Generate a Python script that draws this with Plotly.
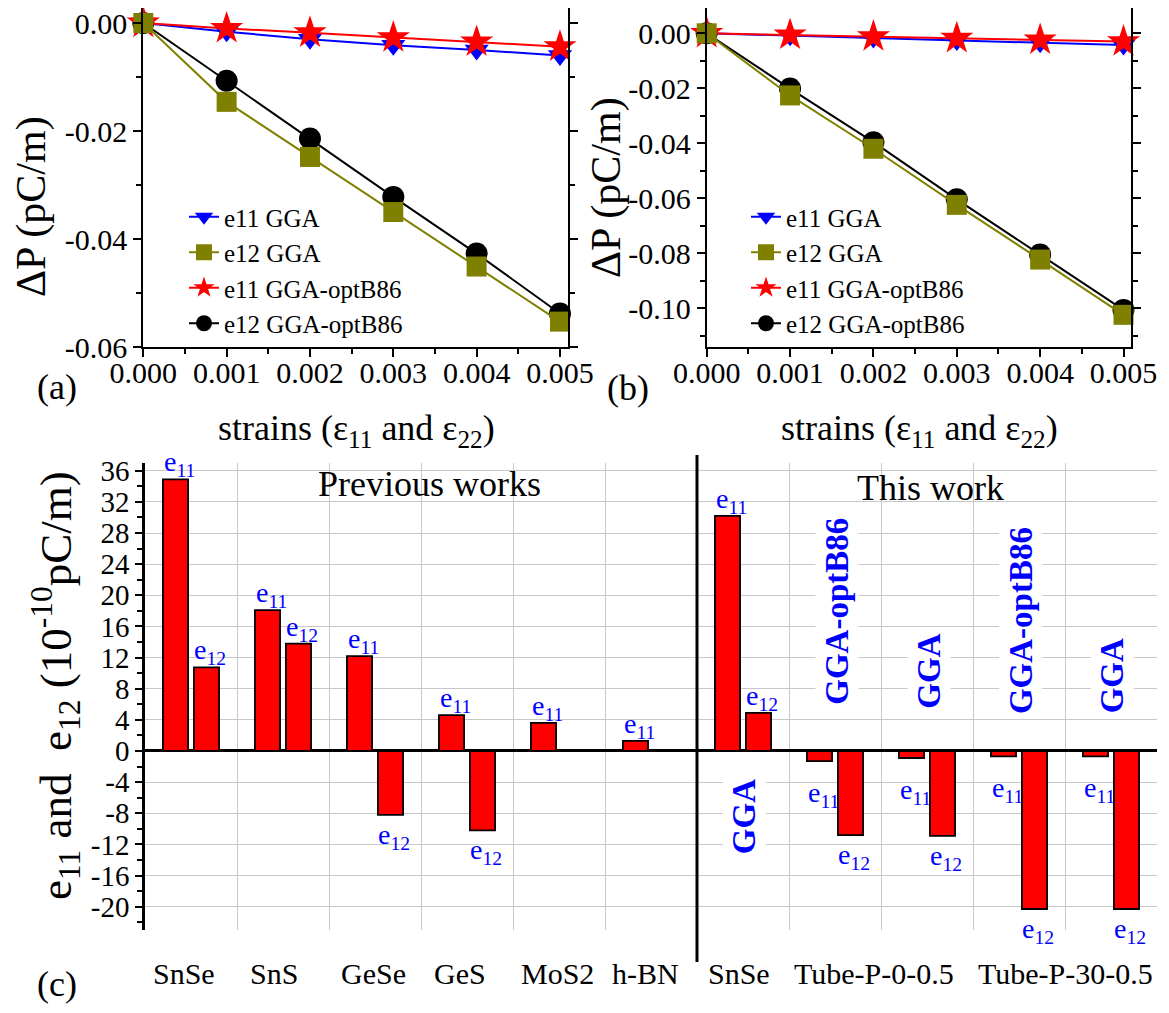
import plotly.graph_objects as go

# ---------------- data ----------------
strain = [0.000, 0.001, 0.002, 0.003, 0.004, 0.005]
strain_ticks = [0.000, 0.001, 0.002, 0.003, 0.004, 0.005]
strain_ticktext = ["0.000", "0.001", "0.002", "0.003", "0.004", "0.005"]

# panel (a)
a_e11_gga = [0.0, -0.0016, -0.0030, -0.0041, -0.0050, -0.0060]
a_e12_gga = [0.0, -0.0146, -0.0248, -0.0350, -0.0451, -0.0553]
a_e11_opt = [0.0, -0.0010, -0.0018, -0.0027, -0.0035, -0.0044]
a_e12_opt = [0.0, -0.0107, -0.0214, -0.0322, -0.0427, -0.0538]
a_yticks = [-0.06, -0.04, -0.02, 0.0]
a_yticktext = ["-0.06", "-0.04", "-0.02", "0.00"]

# panel (b)
b_e11_gga = [0.0, -0.0009, -0.0017, -0.0026, -0.0034, -0.0043]
b_e12_gga = [0.0, -0.0226, -0.0420, -0.0624, -0.0823, -0.1024]
b_e11_opt = [0.0, -0.0006, -0.0012, -0.0018, -0.0024, -0.0030]
b_e12_opt = [0.0, -0.0201, -0.0396, -0.0604, -0.0805, -0.1006]
b_yticks = [-0.10, -0.08, -0.06, -0.04, -0.02, 0.0]
b_yticktext = ["-0.10", "-0.08", "-0.06", "-0.04", "-0.02", "0.00"]

series_names = ["e11 GGA", "e12 GGA", "e11 GGA-optB86", "e12 GGA-optB86"]

# panel (c)
cells = list(range(11))
c_e11 = [34.9, 18.1, 12.2, 4.6, 3.6, 1.3, 30.2, -1.3, -0.9, -0.7, -0.7]
c_e12 = [10.75, 13.8, -8.2, -10.2, None, None, 4.9, -10.8, -10.9, -20.3, -20.3]
cat_labels = ["SnSe", "SnS", "GeSe", "GeS", "MoS2", "h-BN", "SnSe",
              "Tube-P-0-0.5", "Tube-P-30-0.5"]
cat_label_pos = [-0.08, 0.9, 1.98, 2.92, 3.98, 4.94, 5.96, 7.42, 9.5]
method_labels = ["GGA", "GGA-optB86", "GGA", "GGA-optB86", "GGA"]
method_cells = [6, 7, 8, 9, 10]
c_yticks = list(range(-20, 37, 4))
c_yticktext = [str(v) for v in c_yticks]

# ---------------- styling ----------------
FONT = "Liberation Serif, Times New Roman, serif"
BLUE = "#0000FF"
OLIVE = "#808000"
RED = "#FF0000"
OFF = 8                      # page body margin in the browser
FW, FH = 1169 - OFF, 1013 - OFF


def px_x(p):
    return (p - OFF) / FW


def px_y(p):
    return 1 - (p - OFF) / FH


fig = go.Figure()

styles = {
    "e11 GGA": dict(color=BLUE, symbol="triangle-down", size=21, rank=1),
    "e12 GGA": dict(color=OLIVE, symbol="square", size=20, rank=2),
    "e11 GGA-optB86": dict(color=RED, symbol="star", size=25, rank=3),
    "e12 GGA-optB86": dict(color="black", symbol="circle", size=22, rank=4),
}
draw_order = ["e12 GGA-optB86", "e11 GGA", "e11 GGA-optB86", "e12 GGA"]
panel_a = dict(zip(series_names, [a_e11_gga, a_e12_gga, a_e11_opt, a_e12_opt]))
panel_b = dict(zip(series_names, [b_e11_gga, b_e12_gga, b_e11_opt, b_e12_opt]))

for panel, xa, ya, leg in [(panel_a, "x", "y", "legend"), (panel_b, "x2", "y2", "legend2")]:
    for name in draw_order:
        st = styles[name]
        fig.add_trace(go.Scatter(
            x=strain, y=panel[name], mode="lines+markers", name=name,
            xaxis=xa, yaxis=ya, legend=leg, legendrank=st["rank"],
            cliponaxis=False,
            line=dict(color=st["color"], width=2),
            marker=dict(symbol=st["symbol"], size=st["size"], color=st["color"]),
        ))

fig.add_trace(go.Bar(x=cells, y=c_e11, name="e11", xaxis="x3", yaxis="y3",
                     marker=dict(color=RED, line=dict(color="black", width=1.8)),
                     showlegend=False))
fig.add_trace(go.Bar(x=cells, y=c_e12, name="e12", xaxis="x3", yaxis="y3",
                     marker=dict(color=RED, line=dict(color="black", width=1.8)),
                     showlegend=False))

tickfont = dict(family=FONT, size=30, color="black")


def line_axis(domain, rng, tickvals, ticktext, minor_dtick, anchor, standoff):
    return dict(domain=domain, range=rng, anchor=anchor, automargin=False,
                tickmode="array", tickvals=tickvals, ticktext=ticktext,
                ticks="outside", ticklen=8, tickwidth=2, tickcolor="black",
                showline=True, linecolor="black", linewidth=2, mirror="ticks",
                showgrid=False, zeroline=False, tickfont=tickfont,
                ticklabeloverflow="allow", ticklabelstandoff=standoff,
                minor=dict(dtick=minor_dtick, tick0=0, ticks="outside", ticklen=5,
                           tickwidth=2, tickcolor="black", showgrid=False))


ya_dom = [px_y(347), 1.0]
leg_font = dict(family=FONT, size=25, color="black")
fig.update_layout(
    template="none",
    xaxis=line_axis([px_x(143.3), px_x(568.3)], [0, 0.0051], strain_ticks,
                    strain_ticktext, 0.0005, "y", -10),
    yaxis=line_axis(ya_dom, [-0.06, 0.00278], a_yticks, a_yticktext, 0.01, "x", 0),
    xaxis2=line_axis([px_x(706.7), px_x(1131)], [0, 0.00509], strain_ticks,
                     strain_ticktext, 0.0005, "y2", -10),
    yaxis2=line_axis(ya_dom, [-0.1141, 0.0092], b_yticks, b_yticktext, 0.01, "x2", 0),
    xaxis3=dict(domain=[px_x(145), px_x(1157)], range=[-0.5, 10.5], anchor="y3",
                automargin=False,
                tickmode="array", tickvals=[v + 0.5 for v in cells[:-1]],
                showticklabels=False, ticks="", showgrid=True,
                gridcolor="#c8c8c8", gridwidth=1, zeroline=False, showline=False),
    yaxis3=dict(domain=[px_y(930), px_y(463)], range=[-23, 37], anchor="x3",
                automargin=False,
                tickmode="array", tickvals=c_yticks, ticktext=c_yticktext,
                ticks="outside", ticklen=7, tickwidth=2, tickcolor="black",
                showline=True, linecolor="black", linewidth=2.5,
                showgrid=True, gridcolor="#c8c8c8", gridwidth=1,
                zeroline=True, zerolinecolor="black", zerolinewidth=2.5,
                tickfont=dict(family=FONT, size=29, color="black"),
                minor=dict(dtick=2, tick0=0, ticks="outside", ticklen=5,
                           tickwidth=2, tickcolor="black", showgrid=False)),
    barmode="group", bargap=0.326, bargroupgap=0.19,
    width=FW, height=FH, margin=dict(l=0, r=0, t=0, b=0, pad=0, autoexpand=False),
    paper_bgcolor="white", plot_bgcolor="white",
    font=dict(family=FONT, color="black"),
    legend=dict(x=px_x(184), y=px_y(194), xanchor="left", yanchor="top",
                bgcolor="rgba(0,0,0,0)", font=leg_font,
                tracegroupgap=0, itemsizing="trace"),
    legend2=dict(x=px_x(746), y=px_y(194), xanchor="left", yanchor="top",
                 bgcolor="rgba(0,0,0,0)", font=leg_font,
                 tracegroupgap=0, itemsizing="trace"),
)

ann = []


def text_ann(text, x, y, size, xref="paper", yref="paper", angle=0, color="black", **kw):
    d = dict(text=text, x=x, y=y, xref=xref, yref=yref, textangle=angle,
             showarrow=False, xanchor="center", yanchor="middle",
             font=dict(family=FONT, size=size, color=color))
    d.update(kw)
    ann.append(d)


# panel (a)/(b) titles
text_ann("ΔP (pC/m)", px_x(31), px_y(207), 42, angle=-90)
text_ann("ΔP (pC/m)", px_x(607), px_y(188), 42, angle=-90)
xt = "strains (ε<sub>11</sub> and ε<sub>22</sub>)"
text_ann(xt, px_x(356), px_y(430), 36)
text_ann(xt, px_x(919), px_y(430), 36)
text_ann("(a)", px_x(57), px_y(387), 36)
text_ann("(b)", px_x(628), px_y(388), 36)
text_ann("(c)", px_x(57), px_y(984), 36)

# panel (c) y title
text_ann("e<sub>11</sub> and  e<sub>12</sub> (10<sup>-10</sup>pC/m)",
         px_x(55), px_y(686), 45, angle=-90)

# category labels
for lab, pos in zip(cat_labels, cat_label_pos):
    text_ann(lab, pos, px_y(973), 30, xref="x3")

text_ann("Previous works", 2.59, 34.3, 36, xref="x3", yref="y3")
text_ann("This work", 8.04, 33.8, 36, xref="x3", yref="y3")

# e11 / e12 labels next to bars
for i, (v11, v12) in enumerate(zip(c_e11, c_e12)):
    for v, sub, dx in [(v11, "11", -0.13), (v12, "12", 0.21)]:
        if v is None:
            continue
        pos = v > 0
        text_ann(f"e<sub>{sub}</sub>", i + dx, v, 28, xref="x3", yref="y3", color=BLUE,
                 yanchor="bottom" if pos else "top",
                 yshift=-4 if pos else (-2 if abs(v) > 5 else -14))

# method labels (rotated, bold blue, white background)
method_y = [-8.4, 18.0, 10.3, 16.8, 9.7]
for lab, cell, yv in zip(method_labels, method_cells, method_y):
    text_ann(f"<b>{lab}</b>", cell + 0.02, yv, 33, xref="x3", yref="y3", angle=-90,
             color=BLUE, bgcolor="white", borderpad=3)

fig.update_layout(annotations=ann)

fig.add_shape(type="line", xref="x3", yref="paper", x0=5.5, x1=5.5,
              y0=px_y(962), y1=px_y(455), line=dict(color="black", width=3))

fig.write_html("out.html")
